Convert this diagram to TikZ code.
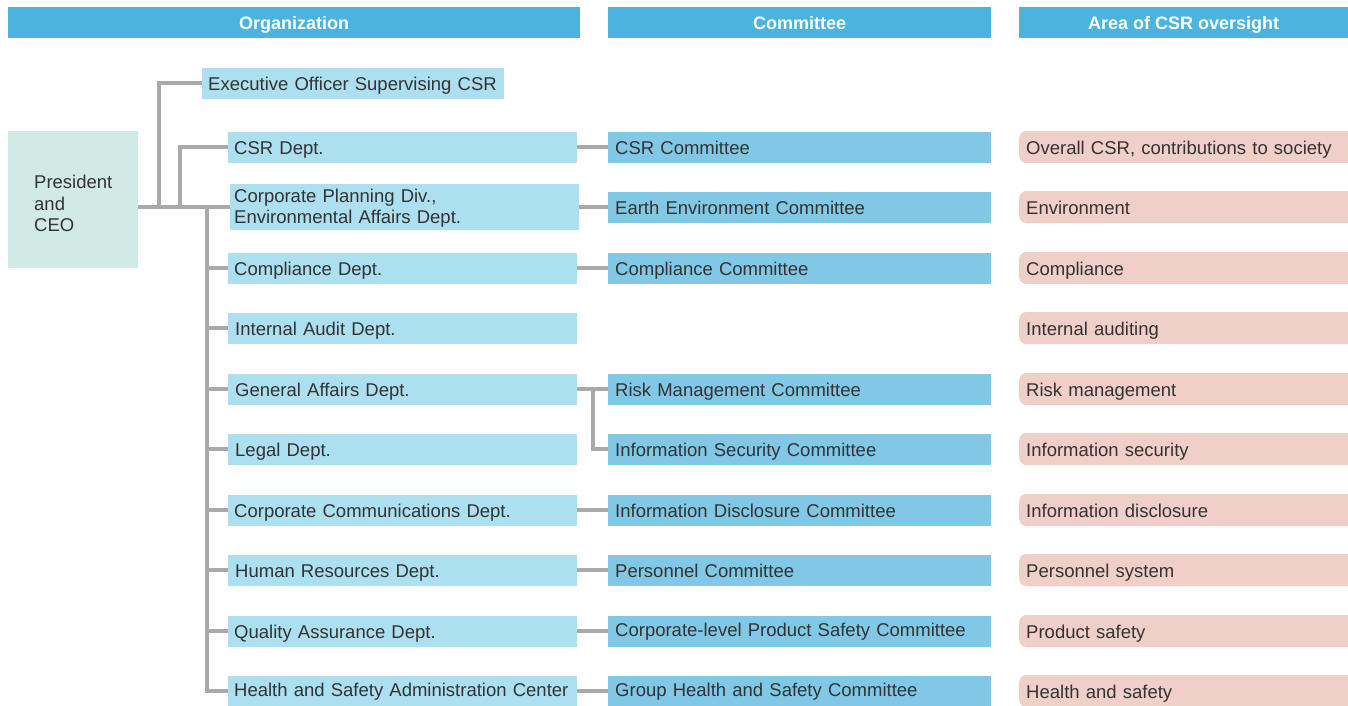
\documentclass[tikz,border=0pt]{standalone}
\usepackage{fontspec}
\setmainfont{Liberation Sans}
\definecolor{hdr}{HTML}{4BB4DE}
\definecolor{deptc}{HTML}{ACDFEF}
\definecolor{commc}{HTML}{80C8E5}
\definecolor{areac}{HTML}{F0CFC8}
\definecolor{presc}{HTML}{D1EAE5}
\definecolor{linec}{HTML}{A7A9AC}
\definecolor{txt}{HTML}{333333}
\begin{document}
\begin{tikzpicture}[x=1pt,y=-1pt,
  every node/.style={font=\fontsize{18.5}{21}\selectfont, text=txt},
  hdrbox/.style={fill=hdr, text=white, font=\fontsize{18}{20}\selectfont\bfseries, minimum height=31pt, inner sep=0pt, anchor=north west, text height=14pt, text depth=1pt},
  cell/.style={anchor=west, inner ysep=0pt, minimum height=31pt, align=left, text height=16pt, text depth=1pt},
  deptbox/.style={cell, fill=deptc, inner xsep=6pt},
  commbox/.style={cell, fill=commc, inner xsep=7pt, text width=369pt},
  areabox/.style={cell, fill=areac, inner xsep=7pt, minimum height=32pt, text width=360pt, rounded corners=7pt},
  raised/.style={text height=15pt, text depth=4pt},
  conn/.style={draw=linec, line width=4pt}
]
\useasboundingbox (0,0) rectangle (1348,705);
\begin{scope}
\clip (0,0) rectangle (1348,705);
% headers
\node[hdrbox, minimum width=572pt] (h1) at (8,7) {Organization};
\node[hdrbox, minimum width=383pt] (h2) at (608,7) {Committee};
\node[hdrbox, minimum width=329pt] (h3) at (1019,7) {Area of CSR oversight};
% president
\node[fill=presc, anchor=north west, minimum width=130pt, minimum height=137pt, inner sep=0pt] (pres) at (8,131) {};
\node[anchor=north west, align=left, inner sep=0pt, font=\fontsize{18.5}{21.5}\selectfont] (prest) at (34,175) {President\\and\\CEO};
% organization column
\node[deptbox, text width=290pt] (exec) at (202,83) {Executive Officer Supervising CSR};
\node[deptbox, text width=337pt] (csr) at (228,147) {CSR Dept.};
\node[deptbox, inner xsep=4pt, text width=341pt, minimum height=46pt, text height=15pt, text depth=25pt] (cpd) at (230,207) {Corporate Planning Div.,\\Environmental Affairs Dept.};
\node[deptbox, text width=337pt] (comp) at (228,268) {Compliance Dept.};
\node[deptbox, inner xsep=7pt, text width=335pt] (audit) at (228,328) {Internal Audit Dept.};
\node[deptbox, inner xsep=7pt, text width=335pt] (gen) at (228,389) {General Affairs Dept.};
\node[deptbox, inner xsep=7pt, text width=335pt] (legal) at (228,449) {Legal Dept.};
\node[deptbox, text width=337pt] (cc) at (228,510) {Corporate Communications Dept.};
\node[deptbox, inner xsep=7pt, text width=335pt] (hr) at (228,570) {Human Resources Dept.};
\node[deptbox, text width=337pt] (qa) at (228,631) {Quality Assurance Dept.};
\node[deptbox, text width=337pt, raised] (hs) at (228,691) {Health and Safety Administration Center};
% committees
\node[commbox] (c1) at (608,147) {CSR Committee};
\node[commbox] (c2) at (608,207) {Earth Environment Committee};
\node[commbox] (c3) at (608,268) {Compliance Committee};
\node[commbox] (c5) at (608,389) {Risk Management Committee};
\node[commbox] (c6) at (608,449) {Information Security Committee};
\node[commbox] (c7) at (608,510) {Information Disclosure Committee};
\node[commbox] (c8) at (608,570) {Personnel Committee};
\node[commbox, raised] (c9) at (608,631) {Corporate-level Product Safety Committee};
\node[commbox, raised] (c10) at (608,691) {Group Health and Safety Committee};
% areas
\node[areabox] (a1) at (1019,147) {Overall CSR, contributions to society};
\node[areabox] (a2) at (1019,207) {Environment};
\node[areabox] (a3) at (1019,268) {Compliance};
\node[areabox] (a4) at (1019,328) {Internal auditing};
\node[areabox] (a5) at (1019,389) {Risk management};
\node[areabox] (a6) at (1019,449) {Information security};
\node[areabox] (a7) at (1019,510) {Information disclosure};
\node[areabox] (a8) at (1019,570) {Personnel system};
\node[areabox] (a9) at (1019,631) {Product safety};
\node[areabox] (a10) at (1019,691) {Health and safety};
% connectors
\coordinate (j1) at (159,207);
\coordinate (j2) at (180,207);
\coordinate (j3) at (207,207);
\coordinate (jr) at (593,389);
\draw[conn] (pres.east |- cpd.west) -- (cpd.west);
\draw[conn] (j1) |- (exec.west);
\draw[conn] (j2) |- (csr.west);
\foreach \d in {comp,audit,gen,legal,cc,hr,qa,hs}{
  \draw[conn] (j3) |- (\d.west);
}
\draw[conn] (csr.east) -- (c1.west);
\draw[conn] (cpd.east) -- (c2.west);
\draw[conn] (comp.east) -- (c3.west);
\draw[conn] (gen.east) -- (c5.west);
\draw[conn] (jr) |- (c6.west);
\draw[conn] (cc.east) -- (c7.west);
\draw[conn] (hr.east) -- (c8.west);
\draw[conn] (qa.east) -- (c9.west);
\draw[conn] (hs.east) -- (c10.west);
\end{scope}
\end{tikzpicture}
\end{document}
